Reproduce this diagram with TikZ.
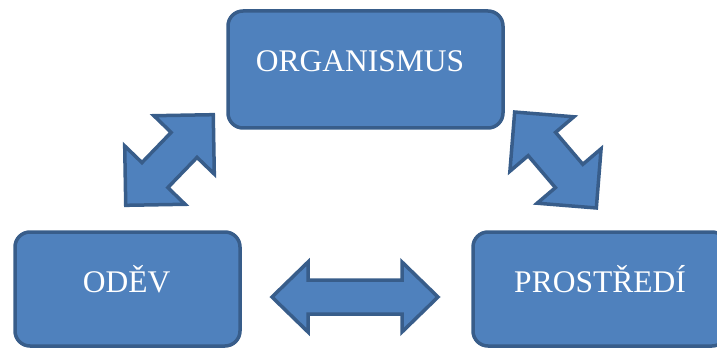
\documentclass[tikz,border=0pt]{standalone}
\usepackage{fontspec}
\setmainfont{Liberation Serif}
\definecolor{boxfill}{HTML}{4F81BD}
\definecolor{boxline}{HTML}{385D8A}
\begin{document}
\begin{tikzpicture}[x=1pt,y=-1pt,
  blockbox/.style={draw=boxline, fill=boxfill, line width=3.5pt, rounded corners=15pt, rectangle, inner sep=0pt},
  lbl/.style={text=white, font=\fontsize{31.5}{36}\selectfont, inner sep=0pt, anchor=base},
  blockarrow/.style={draw=boxline, fill=boxfill, line width=3.5pt, line join=miter}]
\useasboundingbox (0,0) rectangle (717,350);
\clip (0,0) rectangle (717,350);
% boxes
\node[blockbox, minimum width=275pt, minimum height=117pt] (org) at (365.5,69.5) {};
\node[blockbox, minimum width=225pt, minimum height=114pt] (odev) at (127.5,289) {};
\node[blockbox, minimum width=254pt, minimum height=114pt] (prost) at (600,289) {};
% labels
\node[lbl] (torg) at (360,72) {ORGANISMUS};
\node[lbl] (todev) at (126.7,292) {ODĚV};
\node[lbl] (tprost) at (600,292) {PROSTŘEDÍ};
% double block arrows
\draw[blockarrow, shift={(169.5,160)}, rotate=46]
  (63,0) -- (21,42) -- (21,18) -- (-21,18) -- (-21,42) -- (-63,0)
  -- (-21,-42) -- (-21,-18) -- (21,-18) -- (21,-42) -- cycle;
\draw[blockarrow, shift={(555.5,160)}, rotate=-49.6]
  (63,0) -- (21,42) -- (21,18) -- (-21,18) -- (-21,42) -- (-63,0)
  -- (-21,-42) -- (-21,-18) -- (21,-18) -- (21,-42) -- cycle;
\draw[blockarrow, shift={(355,297)}]
  (83,0) -- (47,35) -- (47,17) -- (-47,17) -- (-47,35) -- (-83,0)
  -- (-47,-35) -- (-47,-17) -- (47,-17) -- (47,-35) -- cycle;
\end{tikzpicture}
\end{document}
